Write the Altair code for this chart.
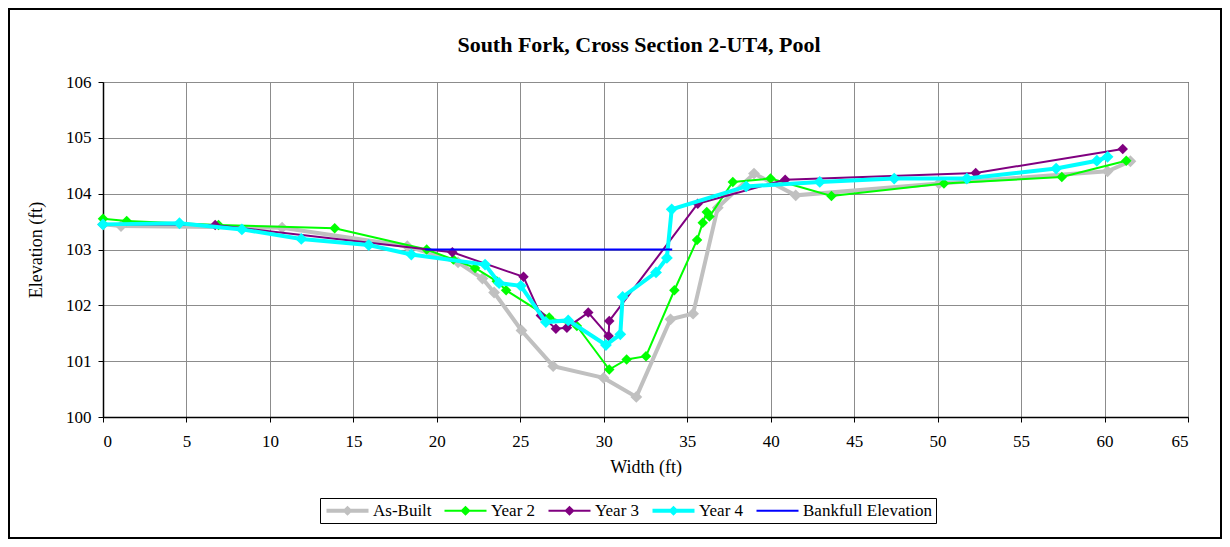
import altair as alt
import pandas as pd

# ---- data ----
asbuilt_x = [0, 1.08, 10.73, 18.23, 21.27, 22.73, 23.43, 25.07, 26.97, 29.99, 31.95,
             34.0, 35.35, 36.83, 39.0, 41.5, 50.08, 60.18, 61.55]
asbuilt_y = [103.45, 103.42, 103.39, 103.06, 102.77, 102.48, 102.23, 101.55, 100.91, 100.70, 100.36,
             101.75, 101.85, 103.75, 104.36, 103.97, 104.18, 104.40, 104.58]

year2_x = [0, 1.42, 6.92, 13.88, 19.39, 20.99, 22.29, 23.59, 24.15, 26.73, 28.39, 30.33, 31.37,
           32.53, 34.23, 35.59, 35.93, 36.17, 36.33, 37.73, 39.99, 43.64, 50.38, 57.44, 61.3]
year2_y = [103.55, 103.51, 103.44, 103.38, 103.0, 102.82, 102.67, 102.43, 102.27, 101.78, 101.63,
           100.85, 101.03, 101.09, 102.27, 103.17, 103.48, 103.67, 103.59, 104.21, 104.27, 103.96,
           104.18, 104.30, 104.59]

year3_x = [0, 6.72, 20.93, 25.19, 26.23, 27.13, 27.79, 29.07, 30.29, 30.33, 35.63, 40.87, 52.28, 61.09]
year3_y = [103.45, 103.44, 102.95, 102.51, 101.82, 101.58, 101.60, 101.87, 101.45, 101.72, 103.82,
           104.25, 104.37, 104.80]

year4_x = [0, 4.58, 8.32, 11.88, 15.92, 18.47, 22.89, 23.73, 25.03, 26.53, 27.87, 30.13, 30.99,
           31.13, 33.13, 33.78, 34.07, 38.53, 42.94, 47.4, 51.75, 57.1, 59.54, 60.18]
year4_y = [103.45, 103.47, 103.36, 103.19, 103.08, 102.91, 102.73, 102.40, 102.35, 101.70, 101.73,
           101.29, 101.48, 102.15, 102.59, 102.85, 103.72, 104.13, 104.21, 104.27, 104.27, 104.45,
           104.59, 104.66]

bankfull_x = [19.3, 34.1]
bankfull_y = [103.0, 103.0]

series_names = ["As-Built", "Year 2", "Year 3", "Year 4", "Bankfull Elevation"]
series_x = [asbuilt_x, year2_x, year3_x, year4_x, bankfull_x]
series_y = [asbuilt_y, year2_y, year3_y, year4_y, bankfull_y]
colors = ["#C0C0C0", "#00FF00", "#800080", "#00FFFF", "#0000FF"]
line_widths = [4, 2, 2, 4, 2]
marker_sizes = [140, 110, 110, 140, 0]

x_ticks = list(range(0, 66, 5))
y_ticks = list(range(100, 107))
title_text = "South Fork, Cross Section 2-UT4, Pool"

frames = []
for name, xs, ys in zip(series_names, series_x, series_y):
    frames.append(pd.DataFrame({"series": name, "width": xs, "elev": ys, "order": list(range(len(xs)))}))
df = pd.concat(frames, ignore_index=True)

FONT = "Liberation Serif"

# legend symbols: a bar with a diamond (units of r = sqrt(size)/2 = 6px)
def sym(half_thick, diamond=True):
    p = f"M-3.5,-{half_thick}H3.5V{half_thick}H-3.5Z"
    if diamond:
        p += "M0,-0.85L0.85,0L0,0.85L-0.85,0Z"
    return p

legend_paths = [sym(0.34), sym(0.17), sym(0.17), sym(0.34), sym(0.17, False)]

color_scale = alt.Scale(domain=series_names, range=colors)
x_enc = alt.X("width:Q", scale=alt.Scale(domain=[0, 65], nice=False, zero=False),
              axis=alt.Axis(values=x_ticks, title="Width (ft)", format="d"))
y_enc = alt.Y("elev:Q", scale=alt.Scale(domain=[100, 106], nice=False, zero=False),
              axis=alt.Axis(values=y_ticks, title="Elevation (ft)", format="d"))

legend_def = alt.Legend(title=None, orient="none", legendX=217, legendY=416,
                        direction="horizontal", columns=5)

layers = []
# legend carrier layer (its own marks sit outside the canvas; only the legend is seen)
layers.append(
    alt.Chart(df).mark_point(filled=True, opacity=1).encode(
        x=alt.value(-5000), y=alt.value(-5000),
        color=alt.Color("series:N", scale=color_scale, legend=legend_def),
        shape=alt.Shape("series:N", scale=alt.Scale(domain=series_names, range=legend_paths),
                        legend=legend_def),
    )
)

for i, name in enumerate(series_names):
    base = alt.Chart(df).transform_filter(alt.datum.series == name)
    layers.append(
        base.mark_line(strokeWidth=line_widths[i]).encode(
            x=x_enc, y=y_enc, order="order:Q",
            color=alt.Color("series:N", scale=color_scale, legend=legend_def))
    )
    if marker_sizes[i] > 0:
        layers.append(
            base.mark_point(shape="diamond", filled=True, size=marker_sizes[i], opacity=1).encode(
                x=x_enc, y=y_enc,
                color=alt.Color("series:N", scale=color_scale, legend=legend_def))
        )

title_layer = alt.Chart(pd.DataFrame({"t": [title_text]})).mark_text(
    font=FONT, fontSize=22, fontWeight="bold", baseline="alphabetic", align="center", color="black"
).encode(text="t:N", x=alt.value(536), y=alt.value(-30))
layers.append(title_layer)

frame_layer = alt.Chart(pd.DataFrame({"t": [0]})).mark_rect(
    fill=None, stroke="black", strokeWidth=2
).encode(x=alt.value(-94), x2=alt.value(1118), y=alt.value(-73), y2=alt.value(456))
layers.append(frame_layer)

chart = alt.layer(*layers).properties(
    width=1085, height=335,
    autosize=alt.AutoSizeParams(type="none"),
    padding={"left": 95, "top": 74, "right": 34, "bottom": 122},
    background="white",
).configure_view(
    stroke="black", strokeWidth=1
).configure_axis(
    labelFont=FONT, labelFontSize=17, labelColor="black",
    titleFont=FONT, titleFontSize=18, titleColor="black", titleFontWeight="normal",
    grid=True, gridColor="#8c8c8c", gridWidth=1,
    domainColor="black", domainWidth=1.5,
    tickColor="black", tickSize=5, tickWidth=1,
).configure_axisX(
    labelPadding=11, titlePadding=9,
).configure_axisY(
    labelPadding=7, titlePadding=20,
).configure_legend(
    labelFont=FONT, labelFontSize=17, labelColor="black",
    strokeColor="black", padding=4, columnPadding=10,
    symbolSize=144, symbolStrokeWidth=0, labelOffset=17, symbolOffset=15,
    fillColor="white",
)

chart.save("out.html", embed_options={"renderer": "svg", "actions": False})
